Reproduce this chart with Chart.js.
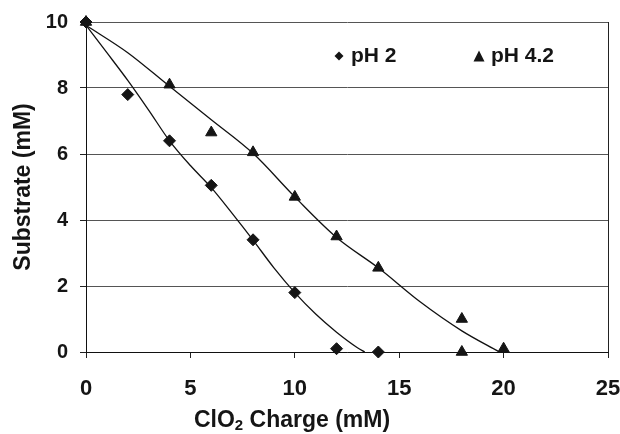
<!DOCTYPE html>
<html>
<head>
<meta charset="utf-8">
<script src="https://cdn.jsdelivr.net/npm/chart.js@4.4.1/dist/chart.umd.min.js"></script>
<style>
  html, body { margin: 0; padding: 0; background: #fff; }
</style>
</head>
<body>
<canvas id="grafico" width="620" height="434"></canvas>
<script>
// measured points
const chargePH2 = [0, 2, 4, 6, 8, 10, 12, 14];
const substratePH2 = [10, 7.8, 6.4, 5.05, 3.4, 1.8, 0.1, 0];
const chargePH42 = [0, 4, 6, 8, 10, 12, 14, 18, 18, 20];
const substratePH42 = [10, 8.1, 6.65, 6.05, 4.7, 3.5, 2.55, 1.0, 0, 0.1];
// trend lines
const fitChargePH2 = [0, 1, 2, 3, 4, 5, 6, 7, 8, 9, 10, 11, 12, 13, 13.35];
const fitSubstratePH2 = [9.9, 9.07, 8.23, 7.33, 6.4, 5.65, 4.98, 4.2, 3.39, 2.55, 1.8, 1.15, 0.6, 0.13, 0];
const fitChargePH42 = [0, 2, 4, 6, 8, 10, 12, 14, 16, 18, 19.8];
const fitSubstratePH42 = [9.9, 9.07, 8.05, 7.04, 6.02, 4.7, 3.47, 2.55, 1.52, 0.64, 0];
// axes
const xTicks = [0, 5, 10, 15, 20, 25];
const yTicks = [0, 2, 4, 6, 8, 10];
const legendLabels = ["pH 2", "pH 4.2"];
const xTitle = ["ClO", "2", " Charge (mM)"];
const yTitle = "Substrate (mM)";

const FONT = "'Liberation Sans', Arial, sans-serif";
const INK = "#151515";

function pares(xs, ys) {
  return xs.map((x, i) => ({ x: x, y: ys[i] }));
}

// legend inside the plot + x title with subscript
const extras = {
  id: "extras",
  afterDraw(chart) {
    const ctx = chart.ctx;
    ctx.save();
    ctx.fillStyle = INK;
    ctx.font = "bold 21px " + FONT;
    ctx.textBaseline = "middle";
    const ly = 56;
    // diamond
    ctx.beginPath();
    ctx.moveTo(339, ly - 4.5);
    ctx.lineTo(343.5, ly);
    ctx.lineTo(339, ly + 4.5);
    ctx.lineTo(334.5, ly);
    ctx.closePath();
    ctx.fill();
    ctx.fillText(legendLabels[0], 351, ly);
    // triangle
    ctx.beginPath();
    ctx.moveTo(479, ly - 5.5);
    ctx.lineTo(484.5, ly + 5.5);
    ctx.lineTo(473.5, ly + 5.5);
    ctx.closePath();
    ctx.fill();
    ctx.fillText(legendLabels[1], 491, ly);

    // x title
    const big = "bold 23px " + FONT;
    const small = "bold 15px " + FONT;
    ctx.textBaseline = "alphabetic";
    ctx.font = big;
    const w1 = ctx.measureText(xTitle[0]).width;
    const w3 = ctx.measureText(xTitle[2]).width;
    ctx.font = small;
    const w2 = ctx.measureText(xTitle[1]).width;
    let x = 292 - (w1 + w2 + w3) / 2;
    const base = 427;
    ctx.font = big;
    ctx.fillText(xTitle[0], x, base);
    x += w1;
    ctx.font = small;
    ctx.fillText(xTitle[1], x, base + 3);
    x += w2;
    ctx.font = big;
    ctx.fillText(xTitle[2], x, base);
    ctx.restore();
  }
};

const data = {
  datasets: [
    {
      label: legendLabels[0],
      data: pares(chargePH2, substratePH2),
      pointStyle: "rectRot",
      pointRadius: 6,
      backgroundColor: INK,
      borderColor: INK,
      borderWidth: 1,
      showLine: false,
      clip: false
    },
    {
      label: legendLabels[1],
      data: pares(chargePH42, substratePH42),
      pointStyle: "triangle",
      pointRadius: 6.5,
      backgroundColor: INK,
      borderColor: INK,
      borderWidth: 1,
      showLine: false,
      clip: false
    },
    {
      label: "fit pH 2",
      data: pares(fitChargePH2, fitSubstratePH2),
      showLine: true,
      pointRadius: 0,
      borderColor: "#111",
      borderWidth: 1.3,
      cubicInterpolationMode: "monotone"
    },
    {
      label: "fit pH 4.2",
      data: pares(fitChargePH42, fitSubstratePH42),
      showLine: true,
      pointRadius: 0,
      borderColor: "#111",
      borderWidth: 1.3,
      cubicInterpolationMode: "monotone"
    }
  ]
};

const config = {
  type: "scatter",
  data: data,
  options: {
    responsive: false,
    animation: false,
    devicePixelRatio: 1,
    layout: { padding: { top: 22, right: 12, left: 0, bottom: 0 } },
    plugins: {
      legend: { display: false },
      tooltip: { enabled: false }
    },
    scales: {
      x: {
        type: "linear",
        min: 0,
        max: 25,
        afterBuildTicks: (s) => { s.ticks = xTicks.map((v) => ({ value: v })); },
        afterFit: (s) => { s.height = 82; s.paddingLeft = 0; s.paddingRight = 0; },
        ticks: {
          color: INK,
          padding: 18,
          font: { family: FONT, size: 22, weight: "bold" }
        },
        grid: {
          color: (c) => (c.index === xTicks.length - 1 ? "#222" : "rgba(0,0,0,0)"),
          tickColor: "#222",
          tickLength: 6
        },
        border: { display: true, color: "#111", width: 1 }
      },
      y: {
        min: 0,
        max: 10,
        afterBuildTicks: (s) => { s.ticks = yTicks.map((v) => ({ value: v })); },
        afterFit: (s) => { s.width = 86; s.paddingTop = 0; s.paddingBottom = 0; },
        ticks: {
          color: INK,
          padding: 12,
          font: { family: FONT, size: 20, weight: "bold" }
        },
        grid: {
          color: "#555",
          tickColor: "#222",
          tickLength: 6
        },
        border: { display: true, color: "#111", width: 1 },
        title: {
          display: true,
          text: yTitle,
          color: INK,
          padding: { top: 10, bottom: 0 },
          font: { family: FONT, size: 23, weight: "bold" }
        }
      }
    }
  },
  plugins: [extras]
};

const myChart = new Chart(document.getElementById("grafico"), config);
</script>
</body>
</html>
